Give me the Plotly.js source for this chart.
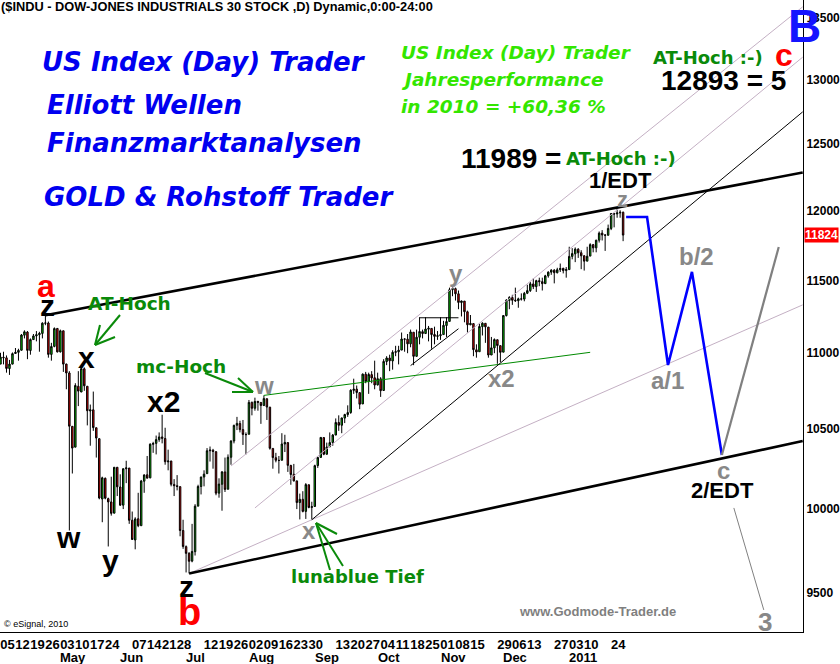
<!DOCTYPE html>
<html><head><meta charset="utf-8">
<script src="https://cdn.plot.ly/plotly-3.0.1.min.js"></script>
<style>html,body{margin:0;padding:0;background:#fff}</style>
</head><body><div id="chart" style="width:840px;height:664px"></div>
<script>
// ---------- data ----------
const dates = [
"2010-04-01","2010-04-05","2010-04-06","2010-04-07","2010-04-08","2010-04-09","2010-04-12","2010-04-13","2010-04-14","2010-04-15","2010-04-16","2010-04-19","2010-04-20","2010-04-21","2010-04-22","2010-04-23","2010-04-26","2010-04-27","2010-04-28","2010-04-29","2010-04-30",
"2010-05-03","2010-05-04","2010-05-05","2010-05-06","2010-05-07","2010-05-10","2010-05-11","2010-05-12","2010-05-13","2010-05-14","2010-05-17","2010-05-18","2010-05-19","2010-05-20","2010-05-21","2010-05-24","2010-05-25","2010-05-26","2010-05-27","2010-05-28",
"2010-06-01","2010-06-02","2010-06-03","2010-06-04","2010-06-07","2010-06-08","2010-06-09","2010-06-10","2010-06-11","2010-06-14","2010-06-15","2010-06-16","2010-06-17","2010-06-18","2010-06-21","2010-06-22","2010-06-23","2010-06-24","2010-06-25","2010-06-28","2010-06-29","2010-06-30",
"2010-07-01","2010-07-02","2010-07-06","2010-07-07","2010-07-08","2010-07-09","2010-07-12","2010-07-13","2010-07-14","2010-07-15","2010-07-16","2010-07-19","2010-07-20","2010-07-21","2010-07-22","2010-07-23","2010-07-26","2010-07-27","2010-07-28","2010-07-29","2010-07-30",
"2010-08-02","2010-08-03","2010-08-04","2010-08-05","2010-08-06","2010-08-09","2010-08-10","2010-08-11","2010-08-12","2010-08-13","2010-08-16","2010-08-17","2010-08-18","2010-08-19","2010-08-20","2010-08-23","2010-08-24","2010-08-25","2010-08-26","2010-08-27","2010-08-30","2010-08-31",
"2010-09-01","2010-09-02","2010-09-03","2010-09-07","2010-09-08","2010-09-09","2010-09-10","2010-09-13","2010-09-14","2010-09-15","2010-09-16","2010-09-17","2010-09-20","2010-09-21","2010-09-22","2010-09-23","2010-09-24","2010-09-27","2010-09-28","2010-09-29","2010-09-30",
"2010-10-01","2010-10-04","2010-10-05","2010-10-06","2010-10-07","2010-10-08","2010-10-11","2010-10-12","2010-10-13","2010-10-14","2010-10-15","2010-10-18","2010-10-19","2010-10-20","2010-10-21","2010-10-22","2010-10-25","2010-10-26","2010-10-27","2010-10-28","2010-10-29",
"2010-11-01","2010-11-02","2010-11-03","2010-11-04","2010-11-05","2010-11-08","2010-11-09","2010-11-10","2010-11-11","2010-11-12","2010-11-15","2010-11-16","2010-11-17","2010-11-18","2010-11-19","2010-11-22","2010-11-23","2010-11-24","2010-11-26","2010-11-29","2010-11-30",
"2010-12-01","2010-12-02","2010-12-03","2010-12-06","2010-12-07","2010-12-08","2010-12-09","2010-12-10","2010-12-13","2010-12-14","2010-12-15","2010-12-16","2010-12-17","2010-12-20","2010-12-21","2010-12-22","2010-12-23","2010-12-27","2010-12-28","2010-12-29","2010-12-30","2010-12-31",
"2011-01-03","2011-01-04","2011-01-05","2011-01-06","2011-01-07","2011-01-10","2011-01-11","2011-01-12","2011-01-13","2011-01-14","2011-01-18","2011-01-19","2011-01-20","2011-01-21","2011-01-24","2011-01-25","2011-01-26","2011-01-27","2011-01-28"];

const openPx = [
10857,10927,10973,10969,10897,10927,10998,11006,11020,11122,11143,11018,11092,11117,11125,11134,11204,11205,10992,11046,11168,
11009,11152,10927,10868,10519,10386,10780,10742,10896,10780,10618,10626,10510,10440,10062,10190,10064,10044,9975,10259,
10136,10024,10250,10254,9932,9813,9941,9899,10172,10212,10193,10404,10410,10434,10451,10441,10293,10298,10152,10144,10138,9870,
9773,9733,9687,9743,10018,10139,10198,10219,10363,10366,10357,10098,10153,10230,10122,10322,10425,10526,10537,10498,10466,
10468,10674,10636,10680,10674,10654,10698,10643,10378,10319,10302,10303,10406,10415,10270,10215,10174,10040,10060,9986,10150,10010,
10016,10270,10321,10447,10341,10388,10415,10463,10544,10526,10572,10595,10608,10753,10761,10738,10664,10860,10812,10857,10836,
10789,10829,10752,10944,10968,10948,11006,11010,11021,11096,11095,11063,11142,10979,11108,11146,11133,11163,11168,11127,11114,
11119,11126,11188,11216,11435,11443,11407,11346,11356,11282,11193,11201,11023,11010,11180,11203,11177,10988,11036,11091,11051,
11007,11256,11361,11381,11363,11359,11372,11370,11411,11429,11476,11457,11499,11492,11478,11533,11559,11573,11555,11576,11586,11570,
11577,11671,11689,11722,11697,11675,11637,11673,11755,11732,11787,11838,11825,11823,11872,11981,11978,11985,11990];

const highPx = [
10975,11003,11010,10985,10955,11005,11035,11030,11130,11155,11150,11100,11130,11150,11145,11210,11258,11215,11070,11175,11170,
11160,11152,10930,10880,10520,10800,10880,10910,10905,10780,10660,10745,10510,10440,10200,10195,10070,10200,10260,10260,
10215,10250,10300,10255,9985,9950,10100,10180,10215,10330,10410,10420,10460,10480,10594,10510,10370,10300,10185,10210,10140,9935,
9780,9740,9910,10030,10150,10200,10240,10380,10390,10375,10360,10190,10235,10320,10340,10430,10530,10580,10555,10560,10480,
10690,10680,10705,10685,10675,10720,10700,10645,10378,10350,10330,10475,10465,10415,10275,10280,10175,10095,10110,10160,10150,10045,
10275,10325,10450,10448,10415,10480,10470,10570,10590,10575,10600,10655,10760,10830,10785,10740,10865,10875,10870,10880,10950,
10870,10840,10960,10980,10990,11020,11050,11050,11140,11100,11130,11160,11142,11160,11245,11160,11245,11185,11168,11180,11150,
11245,11220,11245,11450,11452,11450,11430,11360,11356,11290,11260,11201,11060,11200,11210,11205,11178,11110,11100,11092,11051,
11260,11370,11390,11400,11450,11380,11410,11420,11470,11490,11515,11505,11520,11520,11540,11565,11580,11580,11590,11620,11590,11595,
11740,11730,11735,11730,11715,11680,11740,11765,11760,11790,11850,11860,11830,11900,11985,11985,12020,12005,11995];

const lowPx = [
10857,10927,10925,10870,10855,10925,10995,10950,11018,11100,10960,10990,11090,11080,11010,11100,11190,10970,10950,11040,11005,
11005,10875,10760,9870,10220,10386,10650,10742,10750,10525,10395,10490,10320,10060,9920,10060,9774,9960,9975,10080,
10020,10000,10160,9910,9815,9757,9890,9899,10100,10190,10190,10350,10340,10420,10410,10275,10240,10140,10080,10115,9835,9760,
9620,9614,9680,9720,10018,10090,10140,10219,10295,10250,10085,10070,9990,10105,10122,10275,10410,10495,10480,10400,10340,
10468,10590,10620,10620,10535,10650,10560,10370,10250,10290,10220,10303,10355,10230,10150,10170,10000,9937,9980,9940,10005,9935,
10016,10255,10321,10335,10340,10388,10395,10463,10490,10475,10540,10580,10600,10730,10700,10630,10664,10800,10730,10800,10760,
10785,10710,10752,10920,10880,10890,10980,10925,11021,11010,11000,11040,10920,10979,11060,11100,11133,11080,11030,11060,11090,
11090,11126,11110,11216,11390,11360,11300,11250,11210,11140,11190,10980,10970,11010,11120,11070,10970,10988,11000,10929,10940,
11007,11250,11300,11330,11350,11310,11360,11355,11405,11420,11440,11420,11460,11430,11478,11520,11540,11480,11550,11560,11550,11520,
11577,11650,11630,11660,11580,11570,11637,11673,11700,11700,11770,11785,11710,11820,11860,11880,11950,11950,11780];

const closePx = [
10927,10974,10970,10898,10927,10997,11006,11019,11123,11145,11019,11092,11117,11125,11134,11204,11205,10992,11045,11167,11009,
11152,10927,10868,10520,10380,10785,10748,10897,10783,10620,10626,10511,10444,10068,10193,10067,10044,9974,10259,10137,
10024,10250,10255,9932,9816,9940,9899,10173,10211,10191,10405,10409,10434,10451,10442,10294,10298,10153,10144,10139,9870,9774,
9733,9686,9744,10018,10139,10198,10216,10363,10367,10359,10098,10154,10230,10121,10322,10425,10525,10538,10498,10467,10466,
10674,10636,10680,10675,10654,10699,10644,10379,10320,10303,10302,10406,10416,10271,10214,10174,10040,10060,9986,10151,10010,10015,
10269,10320,10448,10341,10387,10415,10463,10544,10526,10573,10595,10608,10754,10761,10739,10662,10860,10812,10858,10835,10788,
10830,10751,10945,10968,10949,11006,11010,11020,11096,11095,11063,11144,10979,11108,11147,11133,11164,11169,11126,11114,11118,
11125,11189,11215,11435,11444,11407,11347,11357,11283,11193,11202,11024,11008,11181,11204,11179,10988,11036,11092,11052,11006,
11256,11362,11382,11362,11359,11372,11370,11410,11429,11477,11457,11499,11492,11478,11533,11559,11573,11555,11576,11585,11570,11578,
11671,11691,11723,11697,11675,11637,11672,11755,11732,11787,11838,11825,11823,11872,11981,11977,11985,11990,11824];

const lastClose = 11824;

// market holidays (removed from the time axis)
const holidays = ["2010-04-02","2010-05-31","2010-07-05","2010-09-06","2010-11-25","2010-12-24","2011-01-17","2011-02-21","2011-04-22"];

// x-axis tick labels (weekly, day of month) and month labels
const weekTicks = ["2010-04-05","2010-04-12","2010-04-19","2010-04-26","2010-05-03","2010-05-10","2010-05-17","2010-05-24","2010-06-07","2010-06-14","2010-06-21","2010-06-28","2010-07-12","2010-07-19","2010-07-26","2010-08-02","2010-08-09","2010-08-16","2010-08-23","2010-08-30","2010-09-13","2010-09-20","2010-09-27","2010-10-04","2010-10-11","2010-10-18","2010-10-25","2010-11-01","2010-11-08","2010-11-15","2010-11-29","2010-12-06","2010-12-13","2010-12-27","2011-01-03","2011-01-10","2011-01-24"];
const weekTickText = ["05","12","19","26","03","10","17","24","07","14","21","28","12","19","26","02","09","16","23","30","13","20","27","04","11","18","25","01","08","15","29","06","13","27","03","10","24"];
const monthStarts = ["2010-05-03","2010-06-01","2010-07-01","2010-08-02","2010-09-01","2010-10-01","2010-11-01","2010-12-01","2011-01-03"];
const monthText = ["May","Jun","Jul","Aug","Sep","Oct","Nov","Dec","2011"];

// y-axis ticks
const yTicks = [9500,10000,10500,11000,11500,12000,12500,13000,13500];
const yTickText = ["9500","10000","10500","11000","11500","12000","12500","13000","13500"];

// drawn trend / channel lines (date, index level)
const upperLineX = ["2010-04-26","2011-04-26"], upperLineY = [11258,12285];
const lowerLineX = ["2010-07-02","2011-04-26"], lowerLineY = [9614,10425];
const supportX = ["2010-08-31","2011-04-26"], supportY = [9935,12749];
const chanLowX = ["2010-07-02","2011-04-26"], chanLowY = [9614,11330];
const chanTopX = ["2010-07-23","2011-04-26"], chanTopY = [10267,13595];
const chanMidX = ["2010-08-04","2011-04-26"], chanMidY = [10007,13183];
const mcLineX = ["2010-08-09","2011-01-12"], mcLineY = [10720,11006];
const triHX = ["2010-10-21","2010-11-09"], triHY = [11241,11241];
const triDX = ["2010-10-18","2010-11-09"], triDY = [10917,11166];
const projBlueX = ["2011-01-31","2011-02-09","2011-02-18","2011-03-03","2011-03-17"];
const projBlueY = [11955,11955,10921,11561,10336];
const projGrayX = ["2011-03-17","2011-04-13"], projGrayY = [10336,11738];
const projThinX = ["2011-03-23","2011-04-06"], projThinY = [10007,9402];

// ---------- drawing ----------
const W = 803, H = 632;
const ARIAL = "Liberation Sans, Arial, sans-serif";
const DEJA = "DejaVu Sans, Verdana, sans-serif";

function line(x, y, color, width) {
  return {type:"scatter", mode:"lines", x:x, y:y, line:{color:color, width:width}, hoverinfo:"skip", showlegend:false};
}

const traces = [
  line(chanTopX, chanTopY, "#c4b0c4", 1),
  line(chanMidX, chanMidY, "#c4b0c4", 1),
  line(chanLowX, chanLowY, "#c4b0c4", 1),
  line(mcLineX, mcLineY, "#008a00", 1),
  line(supportX, supportY, "#000000", 1),
  line(triHX, triHY, "#000000", 1),
  line(triDX, triDY, "#000000", 1),
  {type:"candlestick", x:dates, open:openPx, high:highPx, low:lowPx, close:closePx,
   increasing:{line:{color:"#000000", width:1}, fillcolor:"#00d000"},
   decreasing:{line:{color:"#000000", width:1}, fillcolor:"#ee0000"},
   whiskerwidth:0, hoverinfo:"skip", showlegend:false},
  line(upperLineX, upperLineY, "#000000", 2.6),
  line(lowerLineX, lowerLineY, "#000000", 2.6),
  line(projBlueX, projBlueY, "#0000ff", 2.6),
  line(projGrayX, projGrayY, "#808080", 2.2),
  line(projThinX, projThinY, "#808080", 1)
];

function T(text, x, y, size, color, opt) {
  opt = opt || {};
  return {xref:"paper", yref:"paper", x:x/W, y:1-y/H, text:text, showarrow:false,
    xanchor:opt.anchor || "center", yanchor:"middle",
    font:{family:opt.family || ARIAL, size:size, color:color, weight:opt.weight || "bold", style:opt.style || "normal"}};
}
function S(x0, y0, x1, y1, color, width) {
  return {type:"line", xref:"paper", yref:"paper", x0:x0/W, y0:1-y0/H, x1:x1/W, y1:1-y1/H,
    line:{color:color, width:width}};
}

const blueT = "#0000f0", limeT = "#33e600", darkG = "#0a8a0a", grayT = "#888888";
const ann = [
  T("($INDU - DOW-JONES INDUSTRIALS 30 STOCK ,D) Dynamic,0:00-24:00", -1, 7, 12.8, "#000", {anchor:"left"}),
  T("US Index (Day) Trader", 40, 62, 26, blueT, {anchor:"left", family:DEJA, style:"italic"}),
  T("Elliott Wellen", 45, 105, 26, blueT, {anchor:"left", family:DEJA, style:"italic"}),
  T("Finanzmarktanalysen", 45, 143, 26, blueT, {anchor:"left", family:DEJA, style:"italic"}),
  T("GOLD &amp; Rohstoff Trader", 42, 197, 26, blueT, {anchor:"left", family:DEJA, style:"italic"}),
  T("US Index (Day) Trader", 399, 52, 18.5, limeT, {anchor:"left", family:DEJA, style:"italic"}),
  T("Jahresperformance", 399, 79, 18.5, limeT, {anchor:"left", family:DEJA, style:"italic"}),
  T("in 2010 = +60,36 %", 399, 106, 18.5, limeT, {anchor:"left", family:DEJA, style:"italic"}),
  T("B", 804, 26, 46, "#1414ff"),
  T("c", 784, 55, 32, "#ff0000"),
  T("AT-Hoch :-)", 651, 57, 18, darkG, {anchor:"left", family:DEJA}),
  T("12893 = 5", 659, 80, 28, "#000", {anchor:"left"}),
  T("11989 =", 459, 158, 28, "#000", {anchor:"left"}),
  T("AT-Hoch :-)", 564, 158, 18, darkG, {anchor:"left", family:DEJA}),
  T("1/EDT", 620, 181, 22, "#000"),
  T("z", 622, 199, 22, grayT),
  T("y", 456, 273, 24, grayT),
  T("x2", 502, 378, 24, grayT),
  T("w", 264, 385, 24, grayT),
  T("x", 309, 530, 24, grayT),
  T("a/1", 667, 380, 24, grayT),
  T("b/2", 696, 257, 24, grayT),
  T("c", 723, 470, 24, grayT),
  T("3", 765, 622, 26, grayT),
  T("2/EDT", 722, 490, 22, "#000"),
  T("a", 46, 286, 32, "#ff0000"),
  T("z", 47, 305, 30, "#000"),
  T("x", 86, 357, 30, "#000"),
  T("x2", 163, 402, 30, "#000"),
  T("w", 68, 537, 30, "#000"),
  T("y", 110, 560, 30, "#000"),
  T("z", 186, 586, 30, "#000"),
  T("b", 189, 612, 38, "#ff0000"),
  T("AT-Hoch", 129, 303, 18.5, darkG, {family:DEJA}),
  T("mc-Hoch", 181, 366, 18.5, darkG, {family:DEJA}),
  T("lunablue Tief", 357, 576, 18, darkG, {family:DEJA}),
  T("www.Godmode-Trader.de", 597, 611, 13, "#7f7f7f"),
  T("\u00a9 eSignal, 2010", 2, 624, 9, "#000", {anchor:"left", weight:"normal"}),
  {xref:"paper", yref:"y", x:1, y:Math.log10(lastClose), xanchor:"left", yanchor:"middle", xshift:1,
   text:String(lastClose), showarrow:false, bgcolor:"#ff0000", borderpad:0,
   font:{family:ARIAL, size:12, color:"#ffffff", weight:"bold"}}
];
monthStarts.forEach(function(d, i){
  ann.push({xref:"x", yref:"paper", x:d, y:-(657.5-H)/H, xanchor:"left", yanchor:"middle", xshift:-2,
    text:monthText[i], showarrow:false, font:{family:ARIAL, size:13, color:"#000", weight:"bold"}});
});

const G = "#0a8a0a";
const shapes = [
  S(120,315,95,345,G,2), S(100,325,95,345,G,2), S(115,337,95,345,G,2),
  S(205,373,253,392,G,2), S(238,378,253,392,G,2), S(232,392,253,392,G,2),
  S(330,570,316,523,G,2), S(343,566,316,523,G,2), S(337,534,316,523,G,2)
];

const layout = {
  width:840, height:664, margin:{l:0, r:37, t:0, b:32, pad:0},
  paper_bgcolor:"#ffffff", plot_bgcolor:"#ffffff", showlegend:false,
  xaxis:{type:"date", range:["2010-04-01 20:00","2011-04-26 02:24"],
    rangebreaks:[{bounds:["sat","mon"]},{values:holidays}],
    rangeslider:{visible:false}, showgrid:false, zeroline:false,
    showline:true, linecolor:"#000", linewidth:1, ticks:"",
    tickmode:"array", tickvals:weekTicks, ticktext:weekTickText, tickangle:0,
    ticklabelshift:7, tickfont:{family:ARIAL, size:13, color:"#000", weight:"bold"}, fixedrange:true},
  yaxis:{type:"log", side:"right", range:[3.96736,4.13519], showgrid:false, zeroline:false,
    showline:true, linecolor:"#000", linewidth:1, ticks:"",
    tickmode:"array", tickvals:yTicks, ticktext:yTickText,
    tickfont:{family:ARIAL, size:12, color:"#000", weight:"bold"}, fixedrange:true},
  annotations:ann, shapes:shapes
};

Plotly.newPlot("chart", traces, layout, {staticPlot:true, displayModeBar:false});
</script></body></html>
